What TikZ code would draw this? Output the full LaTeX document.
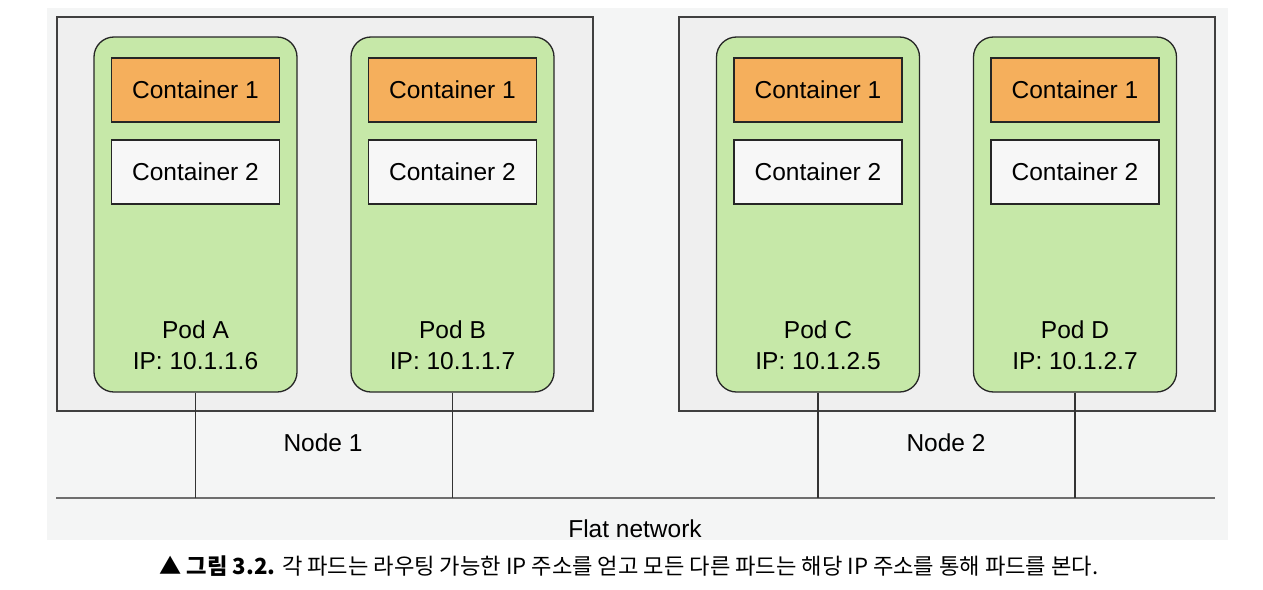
\documentclass[tikz,border=0pt]{standalone}
\usepackage{fontspec}
\setmainfont{Liberation Sans}
\newfontfamily\krfont{Noto Sans CJK KR}
\usepackage{tikz}
\usetikzlibrary{positioning}
\usetikzlibrary{calc}

\definecolor{bggray}{HTML}{F4F5F5}
\definecolor{nodegray}{HTML}{EFEFEF}
\definecolor{podgreen}{HTML}{C6E8A8}
\definecolor{contorange}{HTML}{F5AF5C}
\definecolor{linegray}{HTML}{6E6E6E}

\tikzset{
    nodebox/.style={draw=black!75, line width=1.4pt, fill=nodegray},
    podbox/.style={draw=black!85, line width=1.3pt, fill=podgreen, rounded corners=20pt,
        minimum width=203pt, minimum height=355pt, inner sep=0pt},
    contbox/.style={draw=black!85, line width=1.2pt, minimum width=168pt, minimum height=64pt,
        inner sep=0pt, font=\fontsize{24.5}{28}\selectfont},
    podtext/.style={font=\fontsize{24.5}{31}\selectfont, align=center},
    wire/.style={draw=black!80, line width=1.2pt}
}

\begin{document}
\begin{tikzpicture}[x=1pt, y=-1pt]
        \useasboundingbox (0,0) rectangle (1263,589);
        \fill[bggray] (47,8) rectangle (1228,540);

        % the two nodes
        \draw[nodebox] (57,17) rectangle (593,411);
        \draw[nodebox] (679,17) rectangle (1215,411);
        \node[podtext] (node1) at (323,443) {Node 1};
        \node[podtext] (node2) at (946,443) {Node 2};

        % flat network
        \coordinate (netL) at (56,498);
        \coordinate (netR) at (1215,498);
        \draw[linegray, line width=2.6pt] (netL) -- (netR);
        \node[podtext] (flat) at (635,529) {Flat network};

        % pods
        \foreach \n/\x/\ip in {A/195.5/10.1.1.6, B/452.5/10.1.1.7, C/818/10.1.2.5, D/1075/10.1.2.7} {
            \node[podbox] (pod\n) at (\x,214.5) {};
            \node[contbox, fill=contorange] (c1\n) at (\x,90) {Container 1};
            \node[contbox, fill=white!97!black] (c2\n) at (\x,172) {Container 2};
            \node[podtext] (ip\n) at (\x,345) {Pod \n\\IP: \ip};
            \draw[wire] (pod\n.south) -- (pod\n.south |- netL);
        }

        % caption
        \node[font=\krfont\fontsize{22.2}{26}\selectfont] (cap) at (629,566)
            {\textbf{▲ 그림 3.2.} 각 파드는 라우팅 가능한 IP 주소를 얻고 모든 다른 파드는 해당 IP 주소를 통해 파드를 본다.};
    \end{tikzpicture}
\end{document}
